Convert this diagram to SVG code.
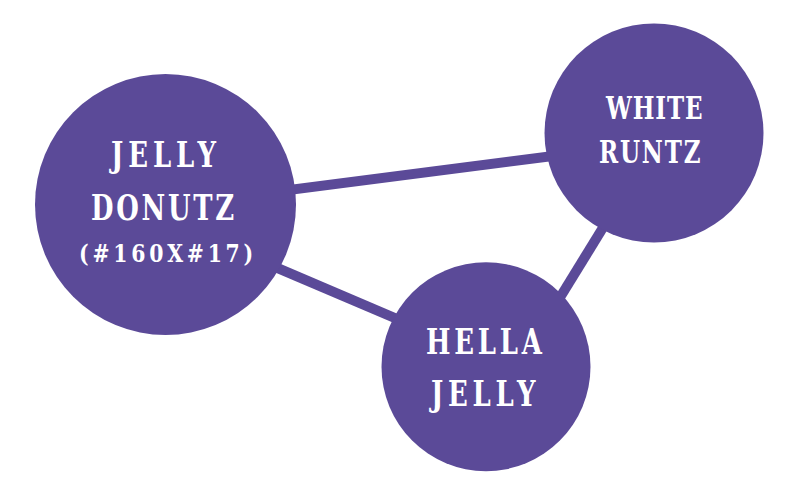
<svg xmlns="http://www.w3.org/2000/svg" width="800" height="486" viewBox="0 0 800 486">
<style>
.edge{stroke:#5b4a98;stroke-width:10;fill:none}
.node{fill:#5b4a98}
.lbl{fill:#ffffff;font-family:"DejaVu Serif",serif;font-weight:bold}
.big{font-size:36px}
.mid{font-size:32px}
.sm{font-size:24px}
</style>
<rect width="800" height="486" fill="#ffffff"/>
<g id="connectors">
<line class="edge" x1="250" y1="195" x2="600" y2="150"/>
<line class="edge" x1="240" y1="252" x2="430" y2="333"/>
<line class="edge" x1="620" y1="200" x2="540" y2="330"/>
</g>
<g id="jelly-donutz">
<circle class="node" cx="165.5" cy="204.5" r="130.5"/>
<text class="lbl big" transform="translate(111,167) scale(0.72,1)" textLength="146" lengthAdjust="spacing">JELLY</text>
<text class="lbl big" transform="translate(91,220) scale(0.72,1)" textLength="199" lengthAdjust="spacing">DONUTZ</text>
<text class="lbl sm" transform="translate(79,262) scale(0.85,1)" textLength="205" lengthAdjust="spacing">(#160X#17)</text>
</g>
<g id="white-runtz">
<circle class="node" cx="654" cy="133" r="109.5"/>
<text class="lbl mid" transform="translate(606,119) scale(0.72,1)" textLength="134" lengthAdjust="spacing">WHITE</text>
<text class="lbl mid" transform="translate(599,162.5) scale(0.72,1)" textLength="141" lengthAdjust="spacing">RUNTZ</text>
</g>
<g id="hella-jelly">
<circle class="node" cx="486" cy="366.7" r="104.5"/>
<text class="lbl big" transform="translate(426,354) scale(0.72,1)" textLength="161" lengthAdjust="spacing">HELLA</text>
<text class="lbl big" transform="translate(431,406) scale(0.72,1)" textLength="145" lengthAdjust="spacing">JELLY</text>
</g>
</svg>
